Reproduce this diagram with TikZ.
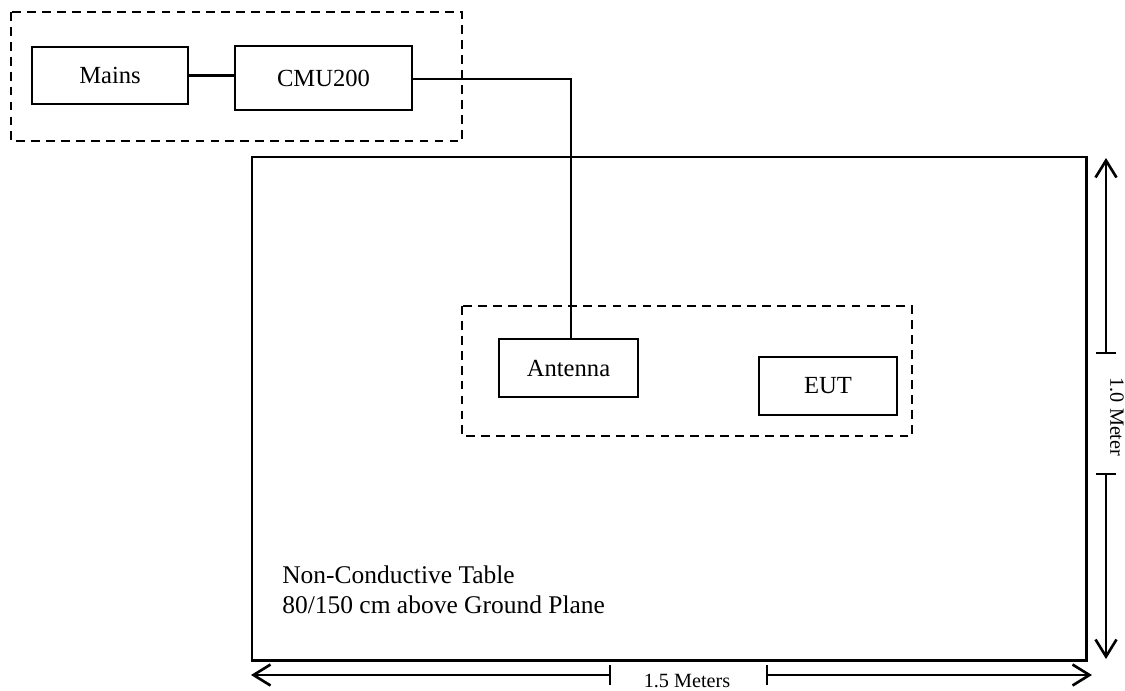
\documentclass[tikz,border=0pt]{standalone}
\usepackage{fontspec}
\setmainfont{Liberation Serif}
\usetikzlibrary{arrows.meta}
\begin{document}
\begin{tikzpicture}[x=0.02cm, y=-0.02cm,
  unit/.style={draw, line width=0.8pt, inner sep=0pt, font=\fontsize{14}{16}\selectfont},
  group/.style={draw, dashed, line width=0.8pt, dash pattern=on 5pt off 3.5pt},
  wire/.style={line width=0.9pt},
  dimline/.style={line width=0.8pt, -{Straight Barb[length=3.4mm, width=4.2mm, line width=1.5pt]}},
  dimtext/.style={font=\fontsize{11.5}{13}\selectfont, inner sep=0pt}]
  \useasboundingbox (0,0) rectangle (1125,690);
  % equipment groups
  \draw[group] (11,12) rectangle (462,141);
  \draw[line width=1.7pt] (252,157) rectangle (1086,660);
  \draw[group] (462,306) rectangle (912,436);
  % units
  \node[unit, minimum width=3.12cm, minimum height=1.14cm] (mains) at (110,75.5) {Mains};
  \node[unit, minimum width=3.54cm, minimum height=1.28cm] (cmu) at (323.5,78) {CMU200};
  \node[unit, minimum width=2.78cm, minimum height=1.16cm] (antenna) at (568.5,368) {Antenna};
  \node[unit, minimum width=2.76cm, minimum height=1.16cm] (eut) at (828,386) {EUT};
  % cabling
  \draw[line width=1.5pt] (mains.east) -- (mains.east -| cmu.west);
  \coordinate (bend) at (571,79);
  \draw[wire] (cmu.east |- bend) -- (bend) -- (bend |- antenna.north);
  % table label
  \node[anchor=north west, align=left, inner sep=0pt, font=\fontsize{14.5}{17.5}\selectfont]
    (table) at (282,565) {Non-Conductive Table\\80/150 cm above Ground Plane};
  % 1.0 Meter
  \coordinate (vtop) at (1106,158);
  \coordinate (vbot) at (1106,659);
  \coordinate (va) at (1106,353);
  \coordinate (vb) at (1106,474);
  \draw[dimline] (va) -- (vtop);
  \draw[dimline] (vb) -- (vbot);
  \draw[line width=0.8pt] ([xshift=-0.2cm]va) -- ([xshift=0.2cm]va)
    ([xshift=-0.2cm]vb) -- ([xshift=0.2cm]vb);
  \node[dimtext, rotate=-90] (vlabel) at (1117,417) {1.0 Meter};
  % 1.5 Meters
  \coordinate (hleft) at (251,675);
  \coordinate (hright) at (1092,675);
  \coordinate (ha) at (610,675);
  \coordinate (hb) at (767,675);
  \draw[dimline] (ha) -- (hleft);
  \draw[dimline] (hb) -- (hright);
  \draw[line width=0.8pt] ([yshift=-0.2cm]ha) -- ([yshift=0.2cm]ha)
    ([yshift=-0.2cm]hb) -- ([yshift=0.2cm]hb);
  \node[dimtext] (hlabel) at (687,681) {1.5 Meters};
\end{tikzpicture}
\end{document}
